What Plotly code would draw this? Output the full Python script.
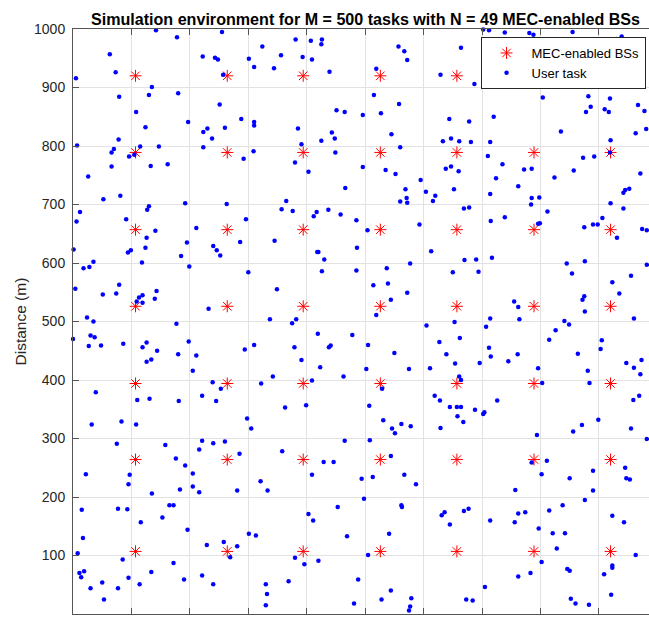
import plotly.graph_objects as go

# Base-station grid coordinates (m), same on both axes
bs_pos = [107, 264, 394, 526, 657, 789, 920]

# User task positions (m)
task_x = [
    142, 178, 255, 63, 73, 5, 222, 243, 248, 257, 301, 310, 135, 130, 79, 180, 108, 124, 197, 251,
    288, 310, 310, 223, 230, 260, 238, 78, 70, 66, 7, 96, 105, 115, 147, 66, 133, 162, 26, 223,
    309, 292, 52, 81, 192, 263, 130, 127, 12, 6, 91, 296,
    324, 381, 407, 426, 425, 356, 393, 409, 344, 439, 519, 557, 567, 572, 629, 515, 558, 451, 465, 496,
    527, 385, 443, 448, 425, 391, 545, 560, 644, 647, 633, 449, 380, 403, 496, 535, 552, 595, 638, 647,
    466, 569, 604, 620, 616, 365, 560, 571, 572, 357, 376, 417, 412, 437, 458, 485,
    702, 712, 739, 781, 788, 855, 846, 930, 939, 664, 687, 924, 804, 882, 886, 878, 919, 910, 917, 967,
    978, 720, 678, 835, 963, 920, 981, 661, 681, 714, 710, 660, 735, 772, 785, 724, 652, 762, 714, 785,
    798, 784, 824, 857, 873, 892, 971, 945, 952, 942, 920, 942, 669, 678, 812, 715, 739, 906, 919,
    1, 94, 99, 126, 141, 124, 118, 211, 195, 185, 199, 240, 246, 252, 286, 300, 18, 28, 35, 4,
    51, 74, 79, 109, 113, 119, 119, 140, 143, 232, 24, 35, 0, 30, 37, 27, 48, 86, 119, 126,
    144, 126, 134, 177, 198, 180, 211, 205, 294, 310, 239, 253, 39, 110, 131, 181, 221, 245,
    504, 593, 345, 418, 420, 430, 486, 613, 577, 426, 485, 537, 349, 514, 539, 572, 544, 519, 337, 382,
    375, 605, 419, 478, 379, 438, 441, 505, 627, 639, 391, 550, 423, 463, 502, 575, 611, 342, 322, 409,
    529, 619, 628, 645, 399, 363, 507,
    796, 799, 875, 890, 898, 931, 974, 982, 670, 690, 717, 650, 694, 845, 876, 854, 982, 923, 955, 935,
    755, 762, 875, 872, 876, 714, 764, 960, 653, 707, 841, 849, 826, 815, 662, 905, 903, 712, 715, 761,
    745, 864, 654, 696, 796, 881, 947, 960, 973, 971, 661, 664, 803, 884, 726, 959, 969, 657, 664, 688,
    702, 704, 658,
    32, 83, 108, 298, 305, 75, 158, 221, 240, 260, 216, 285, 176, 192, 22, 97, 95, 205, 183, 205,
    216, 281, 135, 15, 77, 93, 165, 172, 153, 116, 196, 17, 8, 85, 172, 229, 258, 281, 269, 301,
    313, 11, 14, 19, 30, 50, 53, 77, 95, 114, 134, 190, 221, 240,
    531, 546, 562, 551, 578, 629, 465, 508, 358, 429, 446, 544, 409, 494, 513, 567, 587, 321, 333, 453,
    498, 562, 563, 403, 411, 631, 636, 645, 469, 541, 380, 396, 420, 505, 330, 369, 332, 330, 488, 481,
    544, 528, 579, 577, 575,
    668, 899, 871, 856, 955, 982, 794, 811, 785, 802, 850, 890, 945, 947, 953, 757, 890, 876, 838, 815,
    669, 677, 762, 774, 756, 714, 923, 943, 797, 821, 842, 828, 963, 802, 846, 850, 783, 762, 923, 923,
    909, 705, 921, 673, 684, 852, 860, 883,
]
task_y = [
    998, 986, 995, 957, 926, 916, 953, 951, 948, 922, 949, 935, 901, 887, 884, 890, 858, 832, 841, 871,
    846, 841, 835, 824, 830, 831, 813, 811, 795, 789, 801, 782, 785, 799, 799, 765, 766, 769, 748, 798,
    791, 778, 709, 715, 702, 701, 697, 691, 687, 671, 675, 675,
    970, 982, 980, 982, 974, 955, 952, 948, 933, 927, 932, 970, 962, 947, 922, 887, 872, 861, 858, 853,
    856, 830, 823, 813, 809, 803, 820, 798, 846, 813, 808, 789, 772, 756, 764, 759, 752, 742, 761, 765,
    728, 726, 722, 715, 706, 706, 705, 711, 703, 692, 689, 687, 680, 691, 683, 673,
    999, 998, 994, 993, 990, 995, 981, 983, 987, 968, 906, 907, 883, 885, 867, 858, 881, 863, 858, 870,
    860, 850, 842, 825, 822, 810, 829, 808, 807, 807, 783, 757, 769, 760, 761, 745, 726, 731, 718, 711,
    712, 700, 746, 758, 780, 782, 753, 725, 727, 720, 702, 693, 693, 695, 688, 672, 678, 677, 789,
    623, 618, 622, 643, 655, 626, 601, 660, 635, 612, 594, 629, 622, 613, 636, 584, 591, 593, 602, 556,
    546, 548, 563, 534, 541, 545, 532, 539, 552, 522, 507, 500, 470, 476, 473, 458, 459, 462, 456, 464,
    450, 431, 435, 496, 466, 444, 442, 416, 452, 460, 396, 385, 379, 366, 368, 364, 373, 364,
    656, 666, 638, 619, 619, 606, 626, 620, 599, 586, 587, 591, 555, 562, 565, 549, 537, 511, 504, 504,
    497, 493, 479, 477, 456, 456, 459, 460, 465, 444, 434, 446, 422, 406, 419, 419, 420, 406, 394, 399,
    385, 373, 365, 354, 357, 353, 356,
    667, 668, 661, 666, 666, 643, 658, 656, 605, 606, 609, 584, 585, 599, 603, 582, 597, 567, 578, 548,
    534, 525, 543, 537, 517, 505, 504, 505, 499, 491, 501, 495, 485, 469, 472, 468, 453, 455, 440, 444,
    432, 445, 428, 429, 420, 416, 429, 421, 434, 410, 406, 400, 395, 395, 365, 366, 373, 354, 354, 349,
    342, 345, 338,
    324, 329, 324, 334, 317, 291, 289, 296, 292, 295, 281, 274, 266, 254, 239, 238, 222, 240, 213, 218,
    208, 211, 206, 178, 180, 179, 186, 186, 165, 157, 144, 130, 104, 93, 87, 118, 123, 116, 97, 137,
    134, 70, 63, 73, 44, 54, 25, 44, 62, 51, 72, 59, 66, 51,
    331, 317, 325, 309, 321, 318, 296, 297, 278, 260, 260, 270, 238, 231, 234, 238, 222, 227, 211, 183,
    197, 186, 183, 171, 160, 169, 174, 153, 133, 137, 96, 85, 91, 101, 51, 56, 34, 15, 59, 18,
    40, 25, 27, 13, 6,
    328, 332, 323, 312, 317, 299, 306, 262, 259, 239, 232, 245, 250, 232, 230, 212, 211, 195, 186, 177,
    176, 180, 172, 174, 157, 160, 168, 157, 146, 138, 138, 112, 101, 89, 77, 74, 70, 64, 83, 79,
    68, 46, 33, 25, 23, 26, 18, 16,
]

y_ticks = list(range(0, 1001, 100))
x_ticks = list(range(0, 1001, 100))
title_text = "Simulation environment for M = 500 tasks with N = 49 MEC-enabled BSs"
ylabel_text = "Distance (m)"

bs_x = [x for y in bs_pos for x in bs_pos]
bs_y = [y for y in bs_pos for x in bs_pos]

FONT = "Liberation Sans, Arial, Helvetica, sans-serif"
AX = "#262626"
W, H = 649, 621
L, R, T, B = 73, 0, 29, 7
plot_w = W - L - R
plot_h = H - T - B
x_max = plot_w / 0.5843  # same scale as y (square axes, cropped on the right)

fig = go.Figure()
fig.add_trace(go.Scatter(
    x=bs_x, y=bs_y, mode="markers", name="MEC-enabled BSs", cliponaxis=False,
    marker=dict(symbol="asterisk-open", size=10, color="red", line=dict(color="red", width=1)),
))
fig.add_trace(go.Scatter(
    x=task_x, y=task_y, mode="markers", name="User task", cliponaxis=False,
    marker=dict(symbol="circle", size=4.5, color="blue", line=dict(width=0)),
))

fig.update_layout(
    width=W, height=H,
    margin=dict(l=L, r=R, t=T, b=B, pad=0),
    paper_bgcolor="white", plot_bgcolor="white",
    font=dict(family=FONT, size=14, color=AX),
    title=dict(text=title_text, x=365.5 / W, xref="container", xanchor="center",
               y=1 - 19 / H, yref="container", yanchor="middle",
               font=dict(family=FONT, size=16.1, color="black", weight="bold")),
    showlegend=True,
    legend=dict(x=0.994, xanchor="right", y=1 - (37 - T) / plot_h, yanchor="top",
                bgcolor="white", bordercolor=AX, borderwidth=1,
                font=dict(family=FONT, size=13, color="black"), itemwidth=40,
                tracegroupgap=0),
    xaxis=dict(range=[0, x_max], tickvals=x_ticks, showticklabels=False,
               ticks="inside", ticklen=6, tickcolor="#555", tickwidth=1,
               showgrid=True, gridcolor="#e2e2e2", gridwidth=1,
               showline=True, linecolor="#555", linewidth=1, mirror="ticks",
               zeroline=False, fixedrange=True),
    yaxis=dict(range=[0, 1000], tickvals=y_ticks,
               ticks="inside", ticklen=6, tickcolor="#555", tickwidth=1,
               tickfont=dict(family=FONT, size=14, color=AX), ticklabelstandoff=4,
               showgrid=True, gridcolor="#e2e2e2", gridwidth=1,
               showline=True, linecolor="#555", linewidth=1, mirror=False,
               zeroline=False, fixedrange=True),
    annotations=[dict(text=ylabel_text, textangle=-90, xref="paper", yref="paper",
                      x=(20 - L) / plot_w, y=0.5, xanchor="center", yanchor="middle",
                      showarrow=False, font=dict(family=FONT, size=15.5, color=AX))],
)

fig.write_html("out.html")
